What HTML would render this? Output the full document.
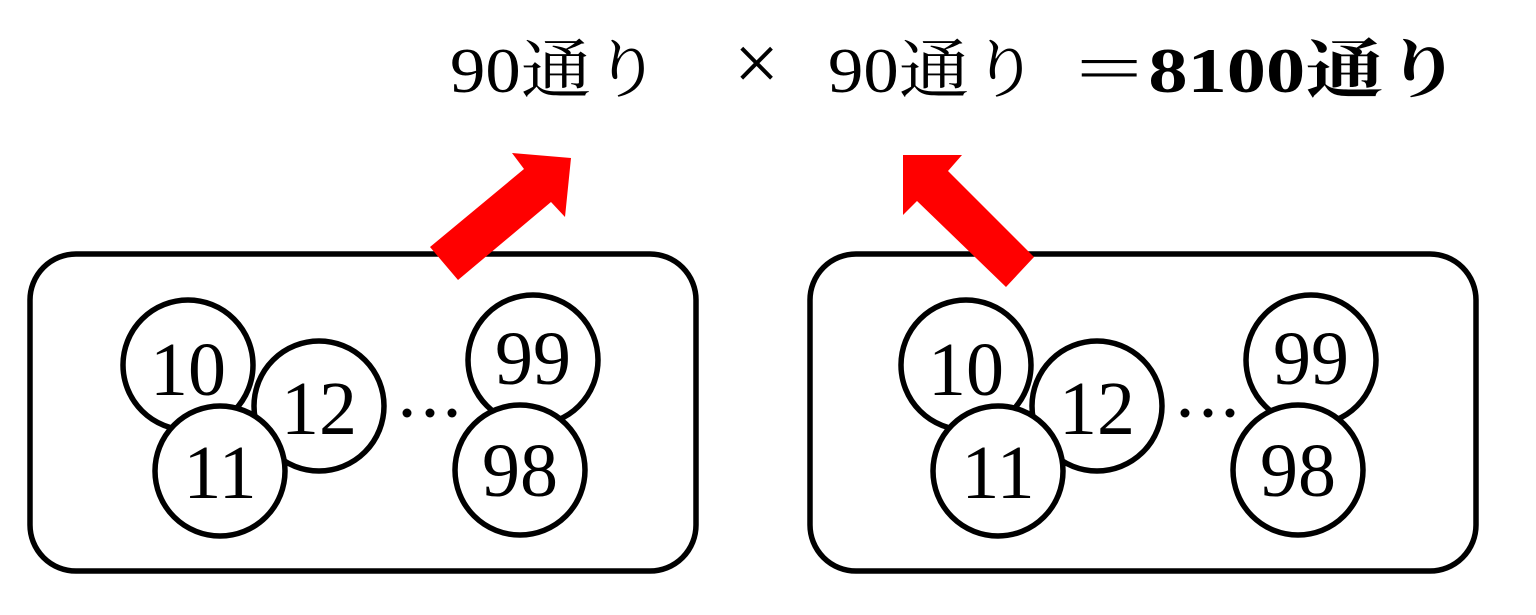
<!DOCTYPE html>
<html><head><meta charset="utf-8"><style>
body{margin:0;background:#fff;width:1536px;height:615px;overflow:hidden}
svg{display:block}
</style></head><body>
<svg width="1536" height="615" viewBox="0 0 1536 615" xmlns="http://www.w3.org/2000/svg" font-family="'Liberation Serif','Noto Serif CJK JP',serif">
<g font-size="64" fill="#000">
<text x="450" y="92" textLength="212" lengthAdjust="spacingAndGlyphs">90通り</text>
<text x="734" y="90" font-size="80">×</text>
<text x="828" y="92" textLength="212" lengthAdjust="spacingAndGlyphs">90通り</text>
<text x="1070" y="92" font-weight="bold" textLength="392" lengthAdjust="spacingAndGlyphs">＝8100通り</text>
</g>
<rect x="30" y="254" width="666" height="317" rx="46" fill="none" stroke="#000" stroke-width="5.5"/>
<rect x="810" y="254" width="666" height="317" rx="46" fill="none" stroke="#000" stroke-width="5.5"/>
<polygon points="430,247 458,280 551,202 565,217 571,158 512,153 524,169" fill="#f00"/>
<polygon points="1034,257 1006,287 917,201 903,215 903,155 962,155 948,171" fill="#f00"/>
<g fill="#fff" stroke="#000" stroke-width="5.5">
<circle cx="188" cy="365" r="65"/>
<circle cx="319" cy="406" r="65"/>
<circle cx="220" cy="471" r="65"/>
<circle cx="533" cy="360" r="65"/>
<circle cx="520" cy="470" r="65"/>
<circle cx="407" cy="413" r="4.5" fill="#000" stroke="none"/>
<circle cx="430" cy="413" r="4.5" fill="#000" stroke="none"/>
<circle cx="452" cy="413" r="4.5" fill="#000" stroke="none"/>
</g>
<g font-size="76" text-anchor="middle" fill="#000">
<text x="188" y="395">10</text>
<text x="319" y="434">12</text>
<text x="220" y="498">11</text>
<text x="533" y="384">99</text>
<text x="520" y="496">98</text>
</g>
<g transform="translate(778,0)">
<g fill="#fff" stroke="#000" stroke-width="5.5">
<circle cx="188" cy="365" r="65"/>
<circle cx="319" cy="406" r="65"/>
<circle cx="220" cy="471" r="65"/>
<circle cx="533" cy="360" r="65"/>
<circle cx="520" cy="470" r="65"/>
<circle cx="407" cy="413" r="4.5" fill="#000" stroke="none"/>
<circle cx="430" cy="413" r="4.5" fill="#000" stroke="none"/>
<circle cx="452" cy="413" r="4.5" fill="#000" stroke="none"/>
</g>
<g font-size="76" text-anchor="middle" fill="#000">
<text x="188" y="395">10</text>
<text x="319" y="434">12</text>
<text x="220" y="498">11</text>
<text x="533" y="384">99</text>
<text x="520" y="496">98</text>
</g>
</g>
</svg>
</body></html>
